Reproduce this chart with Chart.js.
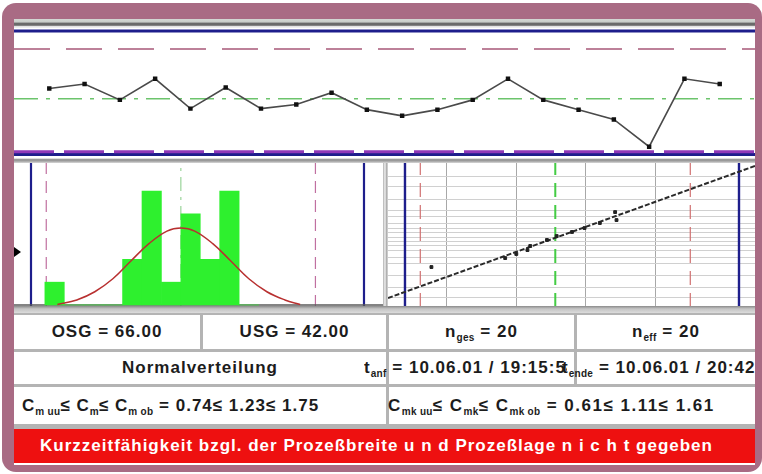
<!DOCTYPE html>
<html><head><meta charset="utf-8">
<script src="https://cdn.jsdelivr.net/npm/chart.js@4.4.1/dist/chart.umd.min.js"></script>
<style>
html,body{margin:0;padding:0;background:#fff;width:762px;height:474px;overflow:hidden;font-family:"Liberation Sans",Arial,sans-serif;}
.abs{position:absolute;}
#frame{left:2px;top:3px;width:760px;height:469px;background:#a96b84;border-radius:14px;}
#content{left:14px;top:19px;width:741px;height:446px;background:#fff;}
#topbar{left:14px;top:19px;width:741px;height:9px;background:linear-gradient(#d4d8d4 0,#c8ccc8 35%,#6a6a6a 45%,#6a6a6a 70%,#e0e0e0 80%,#f4f4f4 100%);}
#sep1{left:14px;top:158px;width:741px;height:5px;background:linear-gradient(#ffffff 0,#9a9a9a 30%,#9a9a9a 55%,#d8d8d8 100%);}
#sep2{left:383px;top:163px;width:5px;height:145px;background:linear-gradient(90deg,#b0b0b0 0,#eeeeee 40%,#b0b0b0 70%,#d8d8d8 100%);}
#sep3{left:14px;top:306px;width:741px;height:7px;background:linear-gradient(#8a8a8a 0,#c4c4c4 40%,#dcdcdc 100%);}
#tri{left:14px;top:247px;width:0;height:0;border-top:5px solid transparent;border-bottom:5px solid transparent;border-left:7px solid #000;}
#tbl{left:14px;top:313px;width:741px;height:116px;background:#b4b4b4;overflow:hidden;}
.cell{position:absolute;background:#fff;}
.txt{position:absolute;display:flex;align-items:center;justify-content:center;white-space:nowrap;font-weight:bold;font-size:17px;color:#1c1c1c;letter-spacing:1px;}
.txt sub{font-size:10px;vertical-align:-4px;line-height:0;letter-spacing:0.3px;}
.clip{position:absolute;overflow:hidden;}
#red{left:14px;top:429px;width:741px;height:34px;background:#ee1010;}
#redtxt{left:14px;top:429px;width:725px;height:34px;color:#fff;font-size:17px;letter-spacing:1px;}
canvas{position:absolute;}
</style></head>
<body>
<div id="frame" class="abs"></div>
<div id="content" class="abs"></div>
<div id="topbar" class="abs"></div>
<canvas id="ctrl" width="741" height="130" style="left:14px;top:28px"></canvas>
<div id="sep1" class="abs"></div>
<canvas id="hist" width="369" height="144" style="left:14px;top:163px"></canvas>
<div id="sep2" class="abs"></div>
<canvas id="prob" width="367" height="144" style="left:388px;top:163px"></canvas>
<div id="tri" class="abs"></div>
<div id="sep3" class="abs"></div>
<div id="tbl" class="abs">
  <div class="cell" style="left:0;top:2px;width:186px;height:34px"></div>
  <div class="cell" style="left:189px;top:2px;width:183px;height:34px"></div>
  <div class="cell" style="left:375px;top:2px;width:185px;height:34px"></div>
  <div class="cell" style="left:563px;top:2px;width:178px;height:34px"></div>
  <div class="cell" style="left:0;top:39px;width:372px;height:32px"></div>
  <div class="cell" style="left:375px;top:39px;width:185px;height:32px"></div>
  <div class="cell" style="left:563px;top:39px;width:178px;height:32px"></div>
  <div class="cell" style="left:0;top:74px;width:372px;height:37px"></div>
  <div class="cell" style="left:375px;top:74px;width:366px;height:37px"></div>

  <div class="txt" style="left:0;top:2px;width:186px;height:34px"><span>OSG = 66.00</span></div>
  <div class="txt" style="left:189px;top:2px;width:183px;height:34px"><span>USG = 42.00</span></div>
  <div class="txt" style="left:375px;top:2px;width:185px;height:34px"><span>n<sub>ges</sub> = 20</span></div>
  <div class="txt" style="left:563px;top:2px;width:178px;height:34px"><span>n<sub>eff</sub> = 20</span></div>
  <div class="txt" style="left:0;top:39px;width:372px;height:32px"><span>Normalverteilung</span></div>
  <div class="clip" style="left:350px;top:39px;width:203px;height:32px">
    <div class="txt" style="left:0;top:0;height:32px;justify-content:flex-start"><span>t<sub>anf</sub> = 10.06.01 / 19:15:54</span></div>
  </div>
  <div class="clip" style="left:548px;top:39px;width:193px;height:32px">
    <div class="txt" style="left:0;top:0;height:32px;justify-content:flex-start"><span>t<sub>ende</sub> = 10.06.01 / 20:42:45</span></div>
  </div>
  <div class="txt" style="left:8px;top:74px;height:37px;justify-content:flex-start"><span>C<sub>m uu</sub>≤ C<sub>m</sub>≤ C<sub>m ob</sub> = 0.74≤ 1.23≤ 1.75</span></div>
  <div class="txt" style="left:374px;top:74px;height:37px;justify-content:flex-start;letter-spacing:1.5px"><span>C<sub>mk uu</sub>≤ C<sub>mk</sub>≤ C<sub>mk ob</sub> = 0.61≤ 1.11≤ 1.61</span></div>
</div>
<div id="red" class="abs"></div>
<div id="redtxt" class="abs txt"><span>Kurzzeitfähigkeit bzgl. der Prozeßbreite u n d Prozeßlage n i c h t gegeben</span></div>

<script>
// ---- data ----
const sampleNo = [1,2,3,4,5,6,7,8,9,10,11,12,13,14,15,16,17,18,19,20];
const sampleValues = [54.8,55.7,52.6,56.7,50.9,55.0,50.9,51.7,54.0,50.7,49.5,50.7,52.6,56.7,52.6,50.7,48.8,43.5,56.7,55.7];
const OSG = 66.0;
const USG = 42.0;
const meanValue = 52.8;
const upperLimit = 62.5;
const lowerLimit = 43.1;
const lowerLimitCtrl = 42.5;

const binCenters = [43.7,45.1,46.5,47.9,49.3,50.7,52.1,53.5,54.9,56.3,57.7];
const binCounts  = [1,0,0,0,2,5,1,4,2,5,0];

const curveX = [43.9,45.3,46.6,47.9,49.2,50.5,51.8,52.8,53.8,55.1,56.4,57.7,59.0,60.3,61.4];
const curveY = [0.02,0.22,0.58,1.15,1.93,2.69,3.24,3.38,3.24,2.69,1.93,1.15,0.58,0.22,0.02];

const probX = [43.9,49.2,50.0,50.8,51.0,52.2,52.9,54.0,54.9,56.0,57.2,57.1];
const probZ = [-1.84,-1.29,-1.04,-0.80,-0.55,-0.18,0.06,0.31,0.55,0.86,1.04,1.53];
const fitLineX = [40.78,67.15];
const fitLineZ = [-3.74,4.36];
const probGridX = [45,50,55,60];
const probGridZ = [-3.72,-3.09,-2.33,-1.645,-1.28,-0.84,-0.52,-0.25,0,0.25,0.52,0.84,1.28,1.645,2.33,3.09,3.72];

// ---- helpers ----
const base = {responsive:false,animation:false,devicePixelRatio:1,events:[],
  plugins:{legend:{display:false},tooltip:{enabled:false}},layout:{padding:0,autoPadding:false}};
function hline(y,x0,x1,color,width,dash,order){
  return {type:'line',data:[{x:x0,y:y},{x:x1,y:y}],borderColor:color,borderWidth:width,borderDash:dash||[],pointRadius:0,order:order};
}
function vline(x,y0,y1,color,width,dash,order){
  return {type:'line',data:[{x:x,y:y0},{x:x,y:y1}],borderColor:color,borderWidth:width,borderDash:dash||[],pointRadius:0,order:order};
}

// ---- control chart ----
const cx0=0,cx1=21,cy0=41.3,cy1=66.58;
new Chart(document.getElementById('ctrl'),{
  type:'line',
  data:{datasets:[
    {data:sampleNo.map((n,i)=>({x:n,y:sampleValues[i]})),borderColor:'#4a4a4a',borderWidth:1.6,
     pointRadius:2,pointStyle:'rect',pointBackgroundColor:'#111',pointBorderColor:'#111',tension:0,order:0},
    hline(OSG,cx0,cx1,'#1e1e8c',3,[],5),
    hline(upperLimit,cx0,cx1,'#a85878',1.6,[36,16],4),
    hline(meanValue,cx0,cx1,'#6cc46c',1.5,[24,8,4,8],3),
    hline(USG,cx0,cx1,'#1e1e8c',3,[],6),
    hline(lowerLimitCtrl,cx0,cx1,'#9038b8',3,[40,10],2)
  ]},
  options:Object.assign({},base,{scales:{
    x:{type:'linear',min:cx0,max:cx1,display:false},
    y:{type:'linear',min:cy0,max:cy1,display:false}}})
});

// ---- histogram ----
const hx0=40.775,hx1=67.37,hy0=-0.09,hy1=6.23;
new Chart(document.getElementById('hist'),{
  type:'bar',
  data:{datasets:[
    {type:'line',data:curveX.map((x,i)=>({x:x,y:curveY[i]})),borderColor:'#b83030',borderWidth:1.5,pointRadius:0,tension:0.4,order:0},
    {type:'bar',data:binCenters.map((x,i)=>({x:x,y:binCounts[i]})),backgroundColor:'#2ef02e',borderWidth:0,
     barPercentage:1,categoryPercentage:1,grouped:false,order:1},
    vline(USG,hy0,hy1,'#1e1e8c',2.2,[],3),
    vline(OSG,hy0,hy1,'#1e1e8c',2.2,[],3),
    vline(lowerLimit,hy0,hy1,'#c070a0',1.2,[12,7],4),
    vline(upperLimit,hy0,hy1,'#c070a0',1.2,[12,7],4),
    vline(meanValue,hy0,hy1,'#9ad49a',1.2,[14,6,3,6],4),
    hline(0,hx0,hx1,'#5a5a5a',1.6,[],2)
  ]},
  options:Object.assign({},base,{scales:{
    x:{type:'linear',min:hx0,max:hx1,display:false,offset:false},
    y:{type:'linear',min:hy0,max:hy1,display:false}}})
});

// ---- probability plot ----
const px0=40.78,px1=67.15,pz0=-4.29,pz1=4.54;
new Chart(document.getElementById('prob'),{
  type:'scatter',
  data:{datasets:[
    {data:probX.map((x,i)=>({x:x,y:probZ[i]})),pointRadius:2,pointStyle:'rect',pointBackgroundColor:'#222',pointBorderColor:'#222',order:0},
    {type:'line',data:fitLineX.map((x,i)=>({x:x,y:fitLineZ[i]})),borderColor:'#2a2a2a',borderWidth:2,borderDash:[5,2],pointRadius:0,order:1},
    vline(USG,pz0,pz1,'#1e1e8c',2.4,[],3),
    vline(OSG,pz0,pz1,'#1e1e8c',2.4,[],3),
    vline(lowerLimit,pz0,pz1,'#d07070',1.2,[14,8],4),
    vline(upperLimit,pz0,pz1,'#d07070',1.2,[14,8],4),
    vline(meanValue,pz0,pz1,'#44cc44',2,[14,8],4)
  ]},
  options:Object.assign({},base,{scales:{
    x:{type:'linear',min:px0,max:px1,ticks:{display:false},border:{display:false},
       grid:{color:'#a8a8a8',lineWidth:1,drawTicks:false},
       afterBuildTicks:a=>{a.ticks=probGridX.map(v=>({value:v}));}},
    y:{type:'linear',min:pz0,max:pz1,ticks:{display:false},border:{display:false},
       grid:{color:'#d0d0d0',lineWidth:1,drawTicks:false},
       afterBuildTicks:a=>{a.ticks=probGridZ.map(v=>({value:v}));}}}})
});
</script>
</body></html>
